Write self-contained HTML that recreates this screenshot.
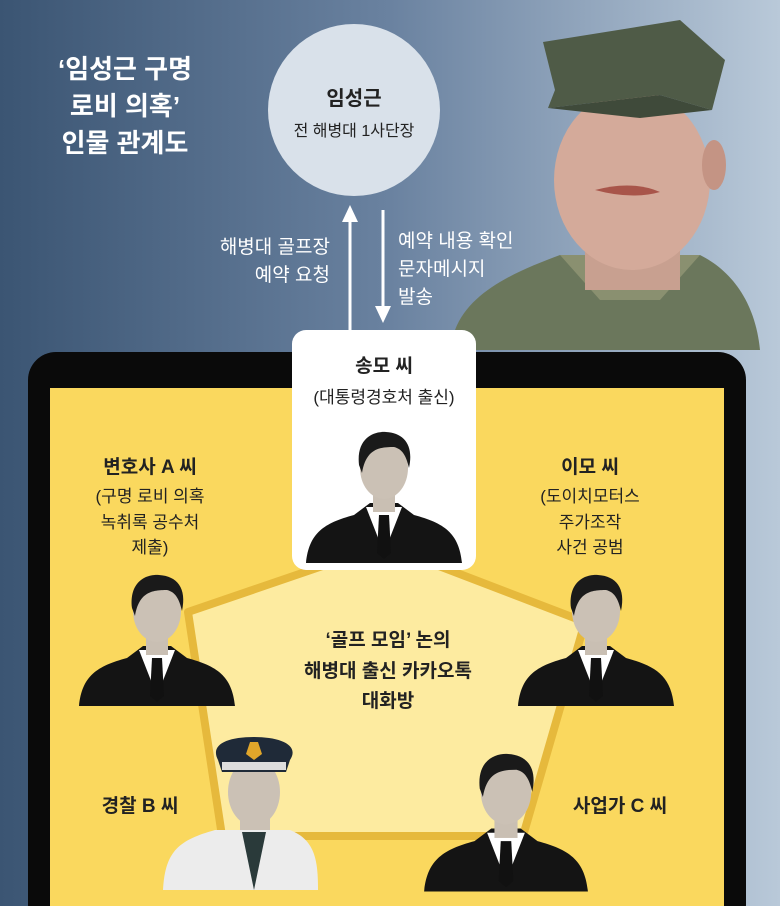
<!DOCTYPE html>
<html><head><meta charset="utf-8"><style>
body{margin:0;width:780px;height:906px;overflow:hidden}
svg{display:block}
text{font-family:"Liberation Sans","Noto Sans CJK KR",sans-serif}
</style></head><body>
<svg width="780" height="906" viewBox="0 0 780 906" xmlns="http://www.w3.org/2000/svg">
<defs>
<linearGradient id="bg" x1="0" y1="0" x2="1" y2="0">
<stop offset="0" stop-color="#3b5573"/><stop offset="0.5" stop-color="#6a82a0"/><stop offset="1" stop-color="#b9c9d9"/>
</linearGradient>
<g id="man">
<path d="M-78,70 C-75,40 -60,30 -30,22 L-14,10 L14,10 L30,22 C60,30 75,40 78,70 Z" fill="#141414"/>
<path d="M-18,14 L0,60 L18,14 Z" fill="#fff"/>
<path d="M-5,22 L5,22 L7,60 L0,66 L-7,60 Z" fill="#111"/>
<rect x="-11" y="-5" width="22" height="24" fill="#c9bfb3"/>
<ellipse cx="0" cy="-25" rx="24" ry="31" fill="#cbc1b5"/>
<path d="M-25,-28 C-28,-55 -10,-62 2,-61 C20,-60 30,-48 25,-25 C22,-38 18,-44 10,-46 C-5,-46 -18,-44 -22,-20 Z" fill="#1a1a1a"/>
</g>
</defs>
<rect width="780" height="906" fill="url(#bg)"/>
<!-- soldier photo approximation -->
<path d="M455,330 C470,290 520,270 560,255 L700,255 C730,270 755,300 760,350 L455,350 Z" fill="#6b775c"/>
<path d="M560,255 L600,300 L660,300 L700,255 Z" fill="#8a9070"/>
<rect x="585" y="200" width="95" height="90" fill="#c8a090"/>
<ellipse cx="632" cy="180" rx="78" ry="90" fill="#d4aa9a"/>
<ellipse cx="714" cy="165" rx="12" ry="25" fill="#c49484"/>
<path d="M543,42 L680,20 L725,60 L712,110 L660,95 L548,108 L555,90 Z" fill="#4f5b47"/>
<path d="M548,108 L660,95 L712,110 L640,118 Z" fill="#3f4a3a"/>
<path d="M595,190 Q632,180 660,192 Q632,200 595,190 Z" fill="#a8554a"/>
<!-- title -->
<text x="125" y="78" font-size="26" font-weight="bold" fill="#fff" text-anchor="middle">‘임성근 구명</text>
<text x="125" y="115" font-size="26" font-weight="bold" fill="#fff" text-anchor="middle">로비 의혹’</text>
<text x="125" y="152" font-size="26" font-weight="bold" fill="#fff" text-anchor="middle">인물 관계도</text>
<!-- circle -->
<circle cx="354" cy="110" r="86" fill="#d9e1ea"/>
<text x="354" y="105" font-size="20" font-weight="bold" fill="#222" text-anchor="middle">임성근</text>
<text x="354" y="136" font-size="16" fill="#222" text-anchor="middle">전 해병대 1사단장</text>
<!-- arrows -->
<line x1="350" y1="336" x2="350" y2="218" stroke="#fff" stroke-width="3"/>
<path d="M342,222 L350,205 L358,222 Z" fill="#fff"/>
<line x1="383" y1="210" x2="383" y2="310" stroke="#fff" stroke-width="3"/>
<path d="M375,306 L383,323 L391,306 Z" fill="#fff"/>
<text x="330" y="253" font-size="19" fill="#fff" text-anchor="end">해병대 골프장</text>
<text x="330" y="281" font-size="19" fill="#fff" text-anchor="end">예약 요청</text>
<text x="398" y="247" font-size="19" fill="#fff">예약 내용 확인</text>
<text x="398" y="275" font-size="19" fill="#fff">문자메시지</text>
<text x="398" y="303" font-size="19" fill="#fff">발송</text>
<!-- panel -->
<rect x="28" y="352" width="718" height="580" rx="28" fill="#0a0a0a"/>
<rect x="50" y="388" width="674" height="530" fill="#fad85e"/>
<polygon points="384,545 188,612 222,836 523,836 585,622" fill="#fdeba0" stroke="#e6b93c" stroke-width="8" stroke-linejoin="round"/>
<!-- center text -->
<text x="388" y="646" font-size="19" font-weight="bold" fill="#222" text-anchor="middle">‘골프 모임’ 논의</text>
<text x="388" y="677" font-size="19" font-weight="bold" fill="#222" text-anchor="middle">해병대 출신 카카오톡</text>
<text x="388" y="707" font-size="19" font-weight="bold" fill="#222" text-anchor="middle">대화방</text>
<!-- card -->
<rect x="292" y="330" width="184" height="240" rx="14" fill="#fff"/>
<text x="384" y="372" font-size="19" font-weight="bold" fill="#222" text-anchor="middle">송모 씨</text>
<text x="384" y="403" font-size="17" fill="#222" text-anchor="middle">(대통령경호처 출신)</text>
<use href="#man" transform="translate(384,493)"/>
<!-- left person -->
<text x="150" y="473" font-size="19" font-weight="bold" fill="#222" text-anchor="middle">변호사 A 씨</text>
<text x="150" y="502" font-size="17" fill="#222" text-anchor="middle">(구명 로비 의혹</text>
<text x="150" y="528" font-size="17" fill="#222" text-anchor="middle">녹취록 공수처</text>
<text x="150" y="553" font-size="17" fill="#222" text-anchor="middle">제출)</text>
<use href="#man" transform="translate(157,636)"/>
<!-- right person -->
<text x="590" y="473" font-size="19" font-weight="bold" fill="#222" text-anchor="middle">이모 씨</text>
<text x="590" y="502" font-size="17" fill="#222" text-anchor="middle">(도이치모터스</text>
<text x="590" y="528" font-size="17" fill="#222" text-anchor="middle">주가조작</text>
<text x="590" y="553" font-size="17" fill="#222" text-anchor="middle">사건 공범</text>
<use href="#man" transform="translate(596,636)"/>
<!-- police -->
<text x="140" y="812" font-size="19" font-weight="bold" fill="#222" text-anchor="middle">경찰 B 씨</text>
<path d="M163,890 C165,850 180,840 215,830 L290,830 C315,840 318,860 318,890 Z" fill="#ececec"/>
<path d="M242,832 L254,890 L266,832 Z" fill="#2a3a3a"/>
<rect x="240" y="790" width="30" height="40" fill="#cbc1b5"/>
<ellipse cx="254" cy="792" rx="26" ry="34" fill="#cbc1b5"/>
<path d="M222,772 L286,772 L290,760 C300,745 280,737 254,737 C226,737 210,745 218,760 Z" fill="#1f2a38"/>
<rect x="222" y="762" width="64" height="8" fill="#ddd"/>
<path d="M250,742 L258,742 L262,754 L254,760 L246,754 Z" fill="#e1a62a"/>
<!-- businessman -->
<text x="620" y="812" font-size="19" font-weight="bold" fill="#222" text-anchor="middle">사업가 C 씨</text>
<use href="#man" transform="translate(506,818) scale(1.05)"/>
</svg>
</body></html>
